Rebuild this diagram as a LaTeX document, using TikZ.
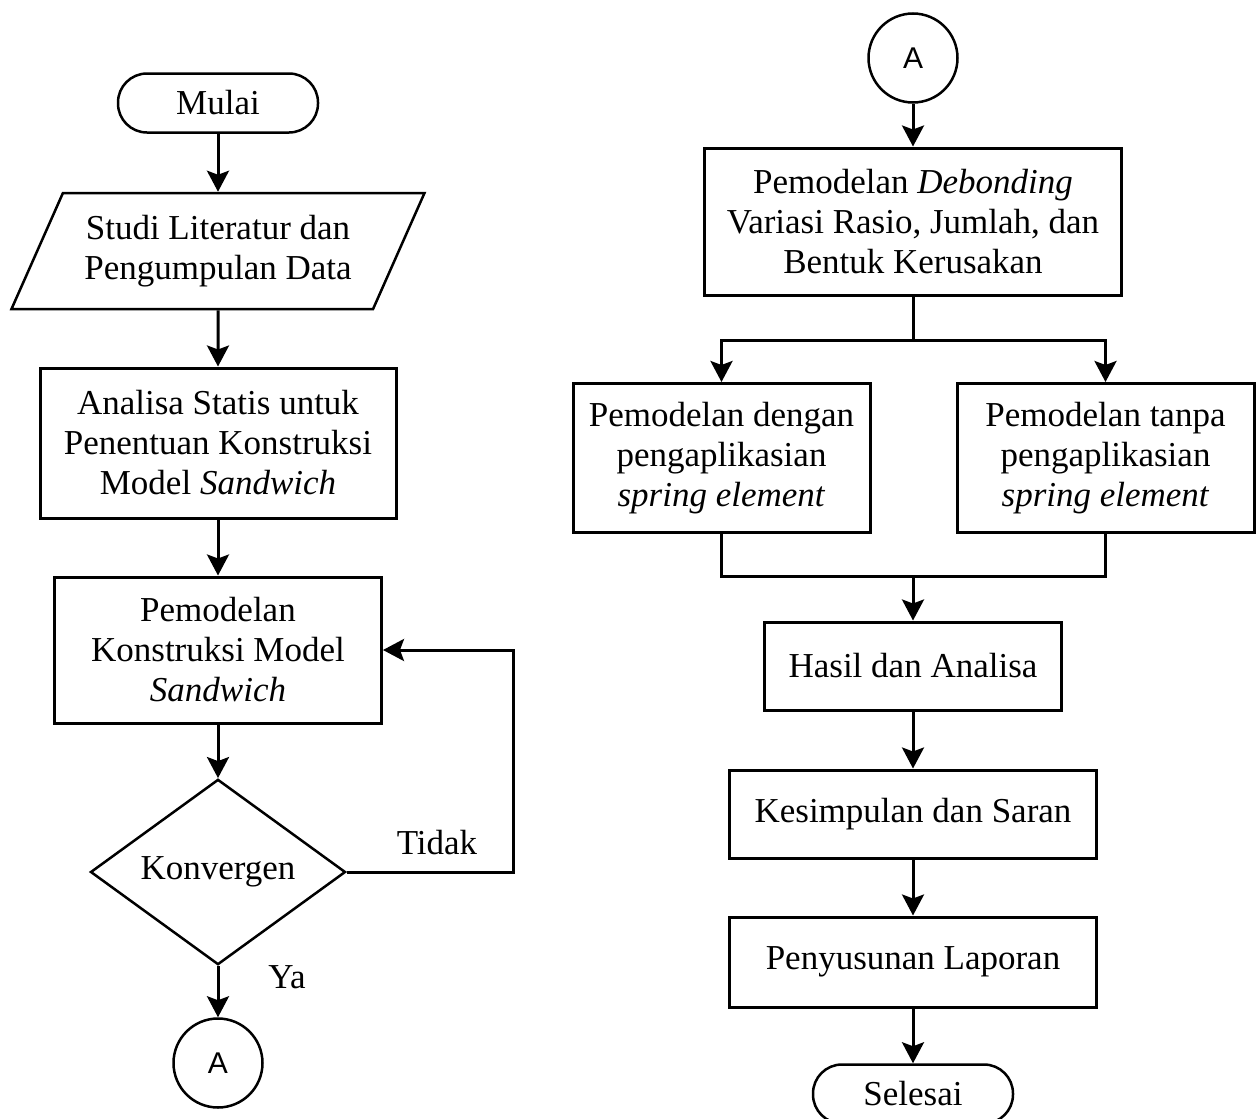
\documentclass[tikz,border=0pt]{standalone}
\usepackage{fontspec}
\setmainfont{Liberation Serif}
\newfontfamily\hurufsans{Liberation Sans}
\usetikzlibrary{shapes.geometric,arrows.meta}

\tikzset{
  proses/.style={draw, line width=3pt, align=center, inner sep=0pt},
  terminal/.style={draw, line width=2.5pt, rounded corners=29pt,
    minimum width=200pt, minimum height=59pt, inner sep=0pt},
  konektor/.style={draw, circle, line width=2.5pt, minimum size=89pt,
    inner sep=0pt, font=\fontsize{30}{34}\selectfont\hurufsans},
  keputusan/.style={draw, diamond, line width=2.5pt, minimum width=255pt,
    minimum height=177pt, inner sep=0pt},
  masukan/.style={draw, trapezium, trapezium left angle=54.4,
    trapezium right angle=125.6, trapezium stretches body,
    line width=2.5pt, minimum width=413pt, minimum height=116pt,
    align=center, inner sep=0pt},
  panah/.style={line width=3pt, -{Stealth[length=21pt, width=22pt, inset=4pt]}},
  garis/.style={line width=3pt},
}

\begin{document}
\begin{tikzpicture}[x=1pt, y=-1pt, font=\fontsize{35}{40}\selectfont]
  \useasboundingbox (0,0) rectangle (1259,1119);

  % kolom kiri
  \node[terminal] (mulai) at (218,103) {Mulai};
  \node[masukan] (studi) at (218,251) {Studi Literatur dan\\Pengumpulan Data};
  \node[proses, minimum width=356pt, minimum height=150pt] (analisa) at (218,443)
    {Analisa Statis untuk\\Penentuan Konstruksi\\Model \textit{Sandwich}};
  \node[proses, minimum width=327pt, minimum height=146pt] (pemodelan) at (218,650)
    {Pemodelan\\Konstruksi Model\\\textit{Sandwich}};
  \node[keputusan] (konvergen) at (218,872) {Konvergen};
  \node[konektor] (a1) at (218,1063) {A};
  \coordinate (balik) at (513,872);
  \node (tidak) at (437,843) {Tidak};
  \node (ya) at (287,977) {Ya};

  \draw[panah] (mulai) -- (studi);
  \draw[panah] (studi) -- (analisa);
  \draw[panah] (analisa) -- (pemodelan);
  \draw[panah] (pemodelan) -- (konvergen);
  \draw[panah] (konvergen) -- (a1);
  \draw[panah] (konvergen.east) -- (balik) |- (pemodelan.east);

  % kolom kanan
  \node[konektor] (a2) at (913,58) {A};
  \node[proses, minimum width=417pt, minimum height=147pt] (debonding) at (913,221.5)
    {Pemodelan \textit{Debonding}\\Variasi Rasio, Jumlah, dan\\Bentuk Kerusakan};
  \node[proses, minimum width=297pt, minimum height=149pt] (dengan) at (721.5,458)
    {Pemodelan dengan\\pengaplikasian\\\textit{spring element}};
  \node[proses, minimum width=297pt, minimum height=149pt] (tanpa) at (1105.5,458)
    {Pemodelan tanpa\\pengaplikasian\\\textit{spring element}};
  \node[proses, minimum width=297pt, minimum height=88pt] (hasil) at (913,666)
    {Hasil dan Analisa};
  \node[proses, minimum width=367pt, minimum height=88pt] (kesimpulan) at (913,814)
    {Kesimpulan dan Saran};
  \node[proses, minimum width=367pt, minimum height=90pt] (laporan) at (913,962)
    {Penyusunan Laporan};
  \node[terminal] (selesai) at (913,1094) {Selesai};
  \coordinate (cabang) at (913,340);
  \coordinate (gabung) at (913,576);

  \draw[panah] (a2) -- (debonding);
  \draw[garis] (debonding) -- (cabang);
  \draw[panah] (cabang) -| (dengan.north);
  \draw[panah] (cabang) -| (tanpa.north);
  \draw[garis] (dengan.south) |- (gabung) -| (tanpa.south);
  \draw[panah] (gabung) -- (hasil);
  \draw[panah] (hasil) -- (kesimpulan);
  \draw[panah] (kesimpulan) -- (laporan);
  \draw[panah] (laporan) -- (selesai);
\end{tikzpicture}
\end{document}
